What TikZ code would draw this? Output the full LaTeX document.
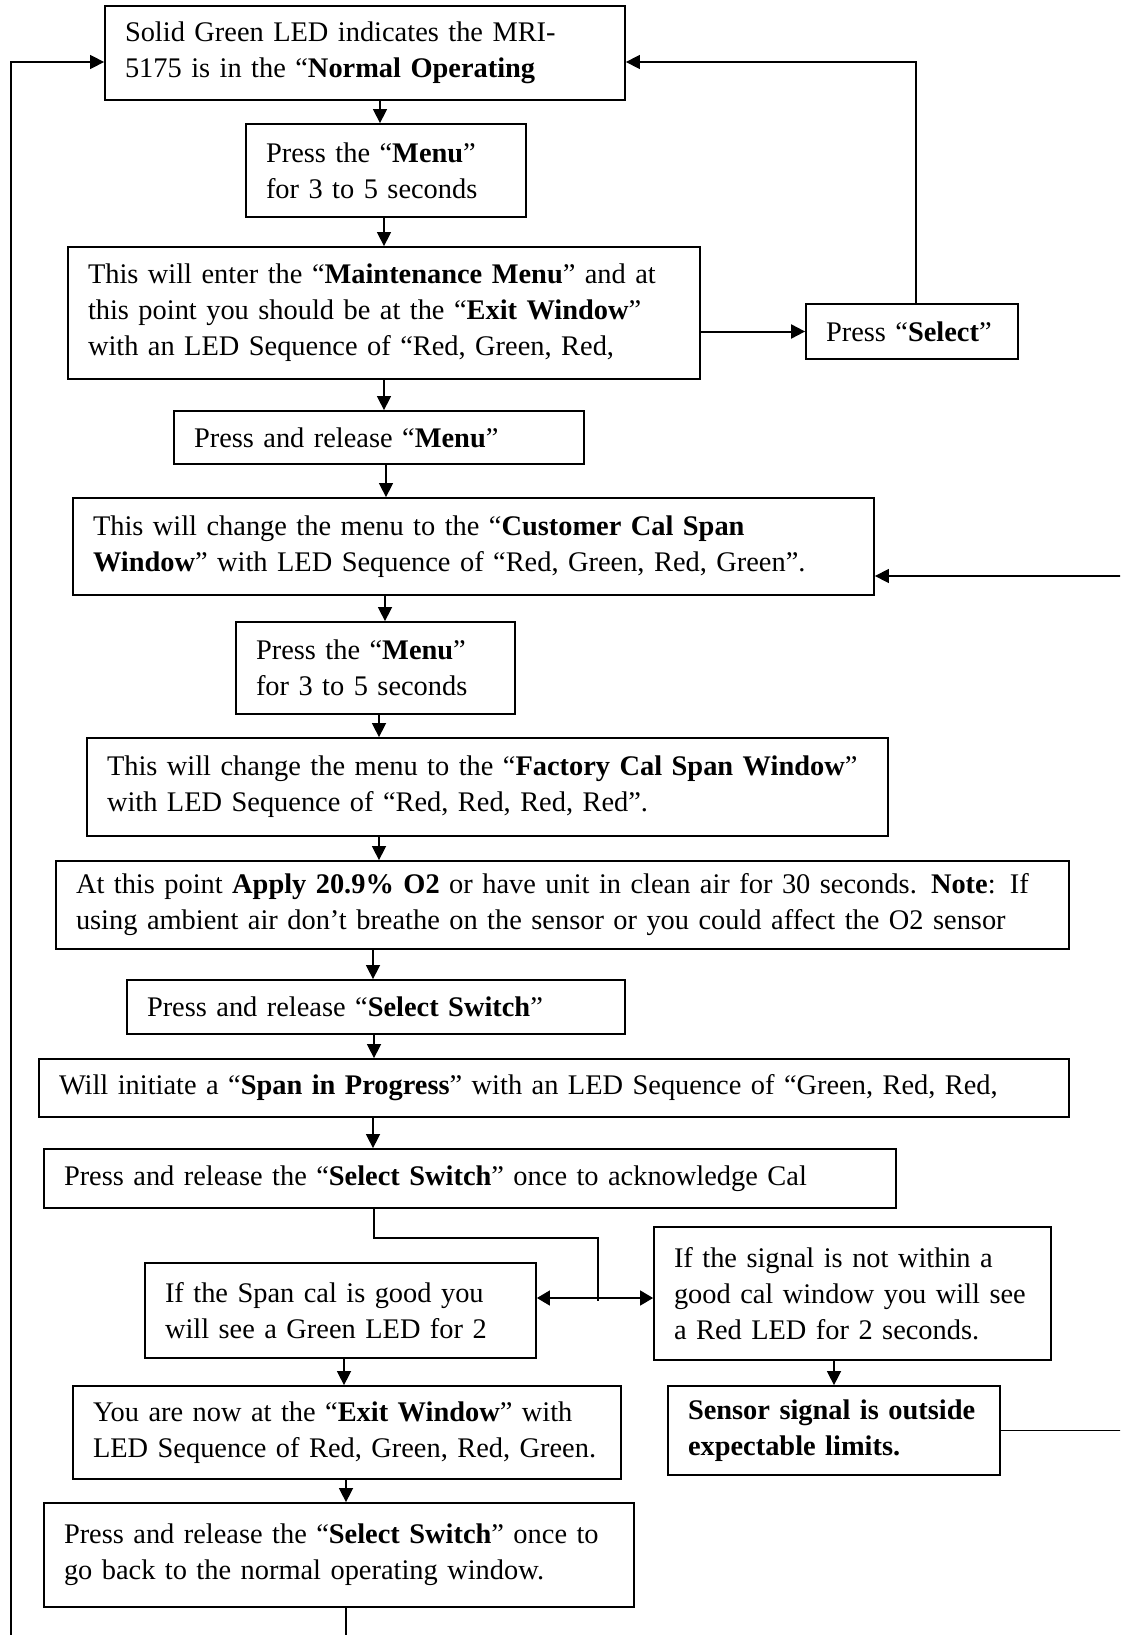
\documentclass[tikz,border=0pt]{standalone}
\usepackage{fontspec}
\setmainfont{Liberation Serif}
\usetikzlibrary{arrows.meta}

\tikzset{
  stepbox/.style={draw, line width=1.8pt, rectangle, inner xsep=20pt, inner ysep=0pt,
    align=left, font=\fontsize{28.4}{36}\selectfont},
  arr/.style={line width=1.5pt, -{Triangle[length=14pt,width=14pt]}},
  dblarr/.style={line width=1.5pt, {Triangle[length=13pt,width=15pt]}-{Triangle[length=13pt,width=15pt]}},
  plain/.style={line width=1.5pt}
}

% box from its left, top, right and bottom edges (page units, y down)
\newcommand\flowbox[6]{%
  \pgfmathsetmacro\fbW{#4-#2}%
  \pgfmathsetmacro\fbH{#5-#3}%
  \pgfmathsetmacro\fbT{#4-#2-40}%
  \pgfmathsetmacro\fbX{(#2+#4)/2}%
  \pgfmathsetmacro\fbY{(#3+#5)/2}%
  \node[stepbox, minimum width=\fbW pt, minimum height=\fbH pt, text width=\fbT pt] (#1) at (\fbX,\fbY) {#6};%
}
% one unbreakable line of box text
\newcommand\tline[1]{\mbox{#1}}

\begin{document}
\begin{tikzpicture}[x=1pt, y=-1pt]
\useasboundingbox (0,0) rectangle (1120,1635);
\fill[white] (0,0) rectangle (1120,1635);
\clip (0,0) rectangle (1120,1635);

\flowbox{normal}{105}{6}{625}{100}{\tline{Solid Green LED indicates the MRI-}\\\tline{5175 is in the “\textbf{Normal Operating}}}
\flowbox{menua}{246}{124}{526}{217}{\tline{Press the “\textbf{Menu}”}\\\tline{for 3 to 5 seconds}}
\flowbox{maint}{68}{247}{700}{379}{\tline{This will enter the “\textbf{Maintenance Menu}” and at}\\\tline{this point you should be at the “\textbf{Exit Window}”}\\\tline{with an LED Sequence of “Red, Green, Red,}}
\flowbox{select}{806}{304}{1018}{359}{\tline{Press “\textbf{Select}”}}
\flowbox{release}{174}{411}{584}{464}{\tline{Press and release “\textbf{Menu}”}}
\flowbox{cust}{73}{498}{874}{595}{\tline{This will change the menu to the “\textbf{Customer Cal Span}}\\\tline{\textbf{Window}” with LED Sequence of “Red, Green, Red, Green”.}}
\flowbox{menub}{236}{622}{515}{714}{\tline{Press the “\textbf{Menu}”}\\\tline{for 3 to 5 seconds}}
\flowbox{fact}{87}{738}{888}{836}{\tline{This will change the menu to the “\textbf{Factory Cal Span Window}”}\\\tline{with LED Sequence of “Red, Red, Red, Red”.}}
\flowbox{apply}{56}{861}{1069}{949}{\tline{At this point \textbf{Apply 20.9\% O2} or have unit in clean air for 30 seconds. \textbf{Note}: If}\\\tline{using ambient air don’t breathe on the sensor or you could affect the O2 sensor}}
\flowbox{selsw}{127}{980}{625}{1034}{\tline{Press and release “\textbf{Select Switch}”}}
\flowbox{span}{39}{1059}{1069}{1117}{\tline{Will initiate a “\textbf{Span in Progress}” with an LED Sequence of “Green, Red, Red,}}
\flowbox{ack}{44}{1149}{896}{1208}{\tline{Press and release the “\textbf{Select Switch}” once to acknowledge Cal}}
\flowbox{good}{145}{1263}{536}{1358}{\tline{If the Span cal is good you}\\\tline{will see a Green LED for 2}}
\flowbox{bad}{654}{1227}{1051}{1360}{\tline{If the signal is not within a}\\\tline{good cal window you will see}\\\tline{a Red LED for 2 seconds.}}
\flowbox{exitw}{73}{1386}{621}{1479}{\tline{You are now at the “\textbf{Exit Window}” with}\\\tline{LED Sequence of Red, Green, Red, Green.}}
\flowbox{sensor}{668}{1386}{1000}{1475}{\tline{\textbf{Sensor signal is outside}}\\\tline{\textbf{expectable limits.}}}
\flowbox{back}{44}{1503}{634}{1607}{\tline{Press and release the “\textbf{Select Switch}” once to}\\\tline{go back to the normal operating window.}}

% main column
\draw[arr] (normal.south -| 380,0) -- (menua.north -| 380,0);
\draw[arr] (menua.south -| 384,0) -- (maint.north -| 384,0);
\draw[arr] (maint.south -| 384,0) -- (release.north -| 384,0);
\draw[arr] (release.south -| 386,0) -- (cust.north -| 386,0);
\draw[arr] (cust.south -| 385,0) -- (menub.north -| 385,0);
\draw[arr] (menub.south -| 379,0) -- (fact.north -| 379,0);
\draw[arr] (fact.south -| 379,0) -- (apply.north -| 379,0);
\draw[arr] (apply.south -| 373,0) -- (selsw.north -| 373,0);
\draw[arr] (selsw.south -| 374,0) -- (span.north -| 374,0);
\draw[arr] (span.south -| 373,0) -- (ack.north -| 373,0);

% exit window branch back to normal operation
\draw[arr, line width=2pt] (maint.east |- select.west) -- (select.west);
\coordinate (selup) at (916,62);
\draw[arr] (select.north -| selup) -- (selup) -- ([yshift=-9pt]normal.east);

% result of the calibration
\coordinate (j1) at (374,1238);
\coordinate (j2) at (598,1238);
\coordinate (j3) at (598,1301);
\draw[plain] (ack.south -| j1) -- (j1) -- (j2) -- (j3);
\draw[dblarr] (good.east |- 0,1298) -- (bad.west |- 0,1298);
\draw[arr] (good.south -| 344,0) -- (exitw.north -| 344,0);
\draw[arr] (bad.south -| sensor.north) -- (sensor.north);
\draw[arr] (exitw.south -| 346,0) -- (back.north -| 346,0);

% return loops
\coordinate (rloop) at (1140,576);
\draw[arr] (sensor.east) -- (sensor.east -| rloop) -- (rloop) -- (rloop -| cust.east);
\coordinate (lbot) at (346,1660);
\coordinate (lcorner) at (11,1660);
\coordinate (ltop) at (11,62);
\draw[arr] (back.south -| lbot) -- (lbot) -- (lcorner) -- (ltop) -- ([yshift=-9pt]normal.west);
\end{tikzpicture}
\end{document}
